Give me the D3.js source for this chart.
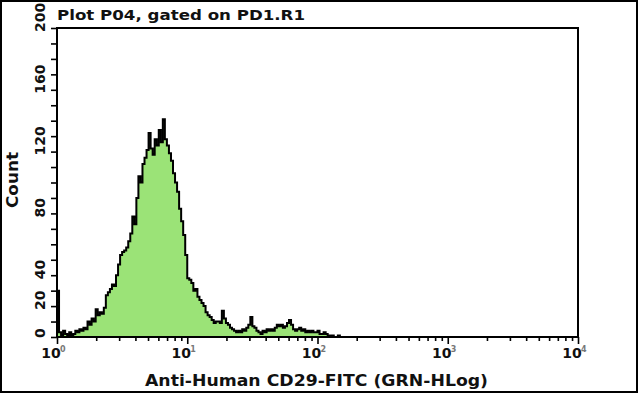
<!DOCTYPE html>
<html>
<head>
<meta charset="utf-8">
<script src="https://cdnjs.cloudflare.com/ajax/libs/d3/7.8.5/d3.min.js"></script>
<style>
  body { margin: 0; background: #fff; }
  text { font-family: "DejaVu Sans", sans-serif; font-weight: bold; fill: #111; }
</style>
</head>
<body>
<div id="chart"></div>
<script>
////////////////////////////////////////////////////////////////////////
// Data
var titleText = "Plot P04, gated on PD1.R1";
var xTitle = "Anti-Human CD29-FITC (GRN-HLog)";
var yTitle = "Count";

// 256 channels across 4 decades, counts for the first channels (rest empty)
var channelsPerDecade = 64;
var counts = [
  30, 3, 1, 4, 2, 1, 3, 1, 2, 4,
  3, 5, 4, 6, 5, 10, 8, 12, 10, 18,
  14, 16, 15, 19, 27, 29, 31, 34, 33, 40,
  47, 53, 55, 56, 58, 62, 67, 78, 73, 90,
  104, 100, 112, 116, 121, 132, 122, 118, 128, 124,
  134, 126, 141, 128, 124, 119, 114, 106, 100, 94,
  83, 75, 66, 53, 38, 37, 35, 30, 31, 26,
  24, 22, 20, 16, 14, 13, 11, 9, 10, 10,
  9, 17, 12, 9, 8, 6, 5, 4, 3, 4,
  3, 5, 4, 6, 8, 13, 7, 6, 4, 3,
  2, 4, 3, 5, 4, 5, 4, 6, 8, 7,
  8, 6, 7, 9, 11, 8, 5, 4, 5, 6,
  4, 5, 3, 4, 3, 4, 3, 3, 4, 2,
  2, 3, 2, 1, 0, 1, 0, 0, 1, 0
];

var yTickValues = [0, 20, 40, 80, 120, 160, 200];
var xDecades = [0, 1, 2, 3, 4];

////////////////////////////////////////////////////////////////////////
var svgWidth = 640, svgHeight = 395;
var plot = { left: 57, top: 28, right: 578, bottom: 337 };

var svg = d3.select("#chart").append("svg")
    .attr("width", svgWidth).attr("height", svgHeight);

// outer border
svg.append("rect")
    .attr("x", 1).attr("y", 1).attr("width", 636).attr("height", 391)
    .attr("fill", "none").attr("stroke", "#000").attr("stroke-width", 2);

// scales
var x = d3.scaleLog().domain([1, 10000]).range([plot.left, plot.right]);
var y = d3.scaleLinear().domain([0, 200]).range([plot.bottom, plot.top]);

// histogram as steps
var bins = counts.map(function (c, i) {
    return { lo: Math.pow(10, i / channelsPerDecade), c: c };
});
bins.push({ lo: Math.pow(10, counts.length / channelsPerDecade), c: 0 });

var area = d3.area()
    .curve(d3.curveStepAfter)
    .x(function (d) { return x(d.lo); })
    .y0(y(0))
    .y1(function (d) { return y(d.c); });

var line = d3.line()
    .curve(d3.curveStepAfter)
    .x(function (d) { return x(d.lo); })
    .y(function (d) { return y(d.c); });

svg.append("path").datum(bins)
    .attr("d", area)
    .attr("fill", "#9be377");

svg.append("path").datum(bins)
    .attr("d", line)
    .attr("fill", "none")
    .attr("stroke", "#000")
    .attr("stroke-width", 2);

// frame
svg.append("rect")
    .attr("x", plot.left).attr("y", plot.top)
    .attr("width", plot.right - plot.left).attr("height", plot.bottom - plot.top)
    .attr("fill", "none").attr("stroke", "#000").attr("stroke-width", 2);

// x ticks: minor and major
var minorX = [];
xDecades.slice(0, -1).forEach(function (e) {
    for (var k = 2; k <= 9; k++) minorX.push(k * Math.pow(10, e));
});
var majorX = xDecades.map(function (e) { return Math.pow(10, e); });

var xMinorAxis = svg.append("g")
    .attr("transform", "translate(0," + plot.bottom + ")")
    .call(d3.axisBottom(x).tickValues(minorX).tickSize(4).tickFormat(""));
var xMajorAxis = svg.append("g")
    .attr("transform", "translate(0," + plot.bottom + ")")
    .call(d3.axisBottom(x).tickValues(majorX).tickSize(7).tickFormat(""));
[xMinorAxis, xMajorAxis].forEach(function (g) {
    g.select(".domain").remove();
    g.selectAll("line").attr("stroke", "#000").attr("stroke-width", 1.6);
});

// x tick labels 10^n
var xLab = svg.append("g");
xDecades.forEach(function (e) {
    var px = x(Math.pow(10, e));
    xLab.append("text")
        .attr("x", px - 6).attr("y", 358)
        .attr("text-anchor", "middle")
        .style("font-size", "14px")
        .text("10");
    xLab.append("text")
        .attr("x", px + 3).attr("y", 352)
        .style("font-size", "8px")
        .style("fill", "#777")
        .text(e);
});

// y ticks every 10
var yAxis = svg.append("g")
    .attr("transform", "translate(" + plot.left + ",0)")
    .call(d3.axisLeft(y).tickValues(d3.range(0, 201, 10)).tickSize(6).tickFormat(""));
yAxis.select(".domain").remove();
yAxis.selectAll("line").attr("stroke", "#000").attr("stroke-width", 1.6);

// y tick labels, rotated, starting just below the tick
yTickValues.forEach(function (v) {
    svg.append("text")
        .attr("transform", "translate(45," + (y(v) + (v === 0 ? 1 : 4)) + ") rotate(-90)")
        .style("font-size", "14px")
        .text(v);
});

// titles
svg.append("text")
    .attr("x", 57).attr("y", 20)
    .attr("textLength", 248).attr("lengthAdjust", "spacingAndGlyphs")
    .style("font-size", "14px")
    .text(titleText);

svg.append("text")
    .attr("x", 145).attr("y", 386)
    .attr("textLength", 343).attr("lengthAdjust", "spacingAndGlyphs")
    .style("font-size", "15px")
    .text(xTitle);

svg.append("text")
    .attr("transform", "translate(18,180) rotate(-90)")
    .attr("text-anchor", "middle")
    .attr("textLength", 56).attr("lengthAdjust", "spacingAndGlyphs")
    .style("font-size", "15px")
    .text(yTitle);
</script>
</body>
</html>
